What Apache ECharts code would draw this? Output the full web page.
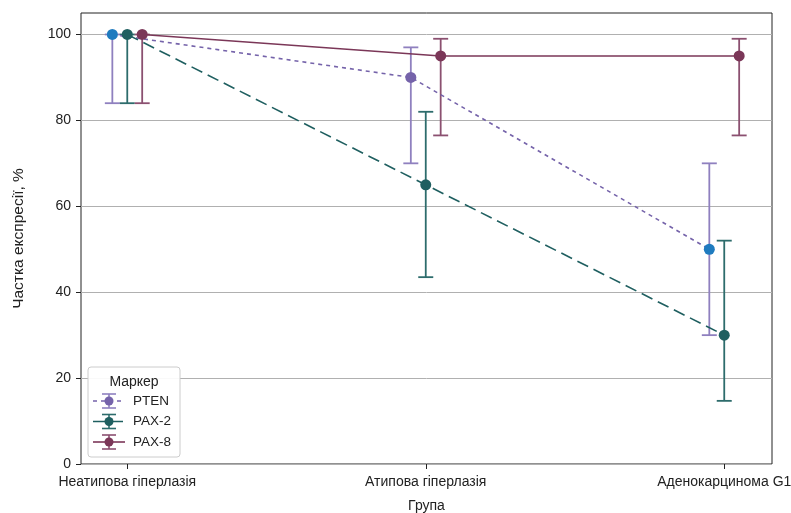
<!DOCTYPE html>
<html>
<head>
<meta charset="utf-8">
<script src="https://cdn.jsdelivr.net/npm/echarts@6/dist/echarts.min.js"></script>
<style>html,body{margin:0;padding:0;background:#fff}#c{width:791px;height:513px}</style>
</head>
<body>
<div id="c"></div>
<script>
const categories = ['Неатипова гіперлазія', 'Атипова гіперлазія', 'Аденокарцинома G1'];
const seriesNames = ['PTEN', 'PAX-2', 'PAX-8'];
const ptenValues = [100, 90, 50];
const ptenLow = [84, 70, 30];
const ptenHigh = [100, 97, 70];
const pax2Values = [100, 65, 30];
const pax2Low = [84, 43.5, 14.7];
const pax2High = [100, 82, 52];
const pax8Values = [100, 95, 95];
const pax8Low = [84, 76.5, 76.5];
const pax8High = [100, 99, 99];
const yTicks = [0, 20, 40, 60, 80, 100];

const FONT = 'Liberation Sans, Arial, sans-serif';
const dodge = 0.05;
const styles = [
  {line: '#7563aa', err: '#8f80bf', marker: '#7563aa', type: [4, 4], offset: -dodge},
  {line: '#1f5f60', err: '#2d6c6c', marker: '#1f5f60', type: [12, 6], offset: 0},
  {line: '#7b3758', err: '#8b5070', marker: '#7b3758', type: 'solid', offset: dodge}
];
const blueMarker = '#1f7bbf';
const values = [ptenValues, pax2Values, pax8Values];
const lows = [ptenLow, pax2Low, pax8Low];
const highs = [ptenHigh, pax2High, pax8High];

const series = [];
seriesNames.forEach((name, s) => {
  const st = styles[s];
  series.push({
    name: name + ' err', type: 'custom', z: 2,
    data: values[s].map((v, i) => [i + st.offset, lows[s][i], highs[s][i]]),
    renderItem: (params, api) => {
      const lo = api.coord([api.value(0), api.value(1)]);
      const hi = api.coord([api.value(0), api.value(2)]);
      const hw = 7.5;
      const style = {stroke: st.err, lineWidth: 1.8};
      return {type: 'group', children: [
        {type: 'line', shape: {x1: lo[0], y1: lo[1], x2: hi[0], y2: hi[1]}, style},
        {type: 'line', shape: {x1: lo[0] - hw, y1: lo[1], x2: lo[0] + hw, y2: lo[1]}, style},
        {type: 'line', shape: {x1: hi[0] - hw, y1: hi[1], x2: hi[0] + hw, y2: hi[1]}, style}
      ]};
    }
  });
  series.push({
    name, type: 'line', z: 3,
    data: values[s].map((v, i) => {
      const d = {value: [i + st.offset, v]};
      if (s === 0 && i !== 1) d.itemStyle = {color: blueMarker};
      return d;
    }),
    symbol: 'circle', symbolSize: 11,
    itemStyle: {color: st.marker, borderWidth: 0},
    lineStyle: {color: st.line, width: 1.6, type: st.type},
    emphasis: {disabled: true}
  });
});

// legend drawn as graphic
const Z = 100;
const legendChildren = [
  {type: 'rect', z: Z, shape: {x: 88, y: 367, width: 92, height: 90, r: 3}, style: {fill: 'rgba(255,255,255,0.92)', stroke: '#cccccc', lineWidth: 1}},
  {type: 'text', z: Z + 1, x: 134, y: 382, style: {text: 'Маркер', font: '14px ' + FONT, fill: '#222', align: 'center', verticalAlign: 'middle'}}
];
seriesNames.forEach((name, s) => {
  const st = styles[s];
  const y = 401 + s * 20.5;
  legendChildren.push(
    {type: 'line', z: Z + 1, shape: {x1: 93, y1: y, x2: 125, y2: y}, style: {stroke: st.line, lineWidth: 1.6, lineDash: st.type === 'solid' ? null : st.type}},
    {type: 'line', z: Z + 1, shape: {x1: 109, y1: y - 7, x2: 109, y2: y + 7}, style: {stroke: st.err, lineWidth: 1.6}},
    {type: 'line', z: Z + 1, shape: {x1: 102, y1: y - 7, x2: 116, y2: y - 7}, style: {stroke: st.err, lineWidth: 1.6}},
    {type: 'line', z: Z + 1, shape: {x1: 102, y1: y + 7, x2: 116, y2: y + 7}, style: {stroke: st.err, lineWidth: 1.6}},
    {type: 'circle', z: Z + 2, shape: {cx: 109, cy: y, r: 4.5}, style: {fill: st.marker}},
    {type: 'text', z: Z + 1, x: 133, y: y, style: {text: name, font: '13.5px ' + FONT, fill: '#222', verticalAlign: 'middle'}}
  );
});

const chart = echarts.init(document.getElementById('c'), null, {renderer: 'canvas'});
chart.setOption({
  animation: false,
  backgroundColor: '#fff',
  grid: {left: 81, right: 19, top: 13, bottom: 49, containLabel: false, outerBoundsMode: 'none',
    show: true, borderColor: '#222', borderWidth: 1, backgroundColor: 'transparent'},
  xAxis: {
    type: 'value', min: -0.155, max: 2.16,
    name: 'Група', nameLocation: 'middle', nameGap: 35,
    nameTextStyle: {fontFamily: FONT, fontSize: 14, color: '#222'},
    axisLine: {show: false, onZero: false},
    splitLine: {show: false},
    axisTick: {show: true, customValues: [0, 1, 2], length: 5, lineStyle: {color: '#222'}},
    axisLabel: {customValues: [0, 1, 2], formatter: v => categories[Math.round(v)], fontFamily: FONT, fontSize: 14, color: '#222', margin: 11, hideOverlap: false}
  },
  yAxis: {
    type: 'value', min: 0, max: 105,
    name: 'Частка експресії, %', nameLocation: 'middle', nameGap: 54,
    nameTextStyle: {fontFamily: FONT, fontSize: 15.5, color: '#222'},
    axisLine: {show: false, onZero: false},
    splitLine: {show: true, lineStyle: {color: '#b0b0b0', width: 1}},
    axisTick: {show: true, customValues: yTicks, length: 5, lineStyle: {color: '#222'}},
    axisLabel: {customValues: yTicks, fontFamily: FONT, fontSize: 14, color: '#222', margin: 10}
  },
  series,
  graphic: [{type: 'group', z: Z, children: legendChildren}]
});
</script>
</body>
</html>
